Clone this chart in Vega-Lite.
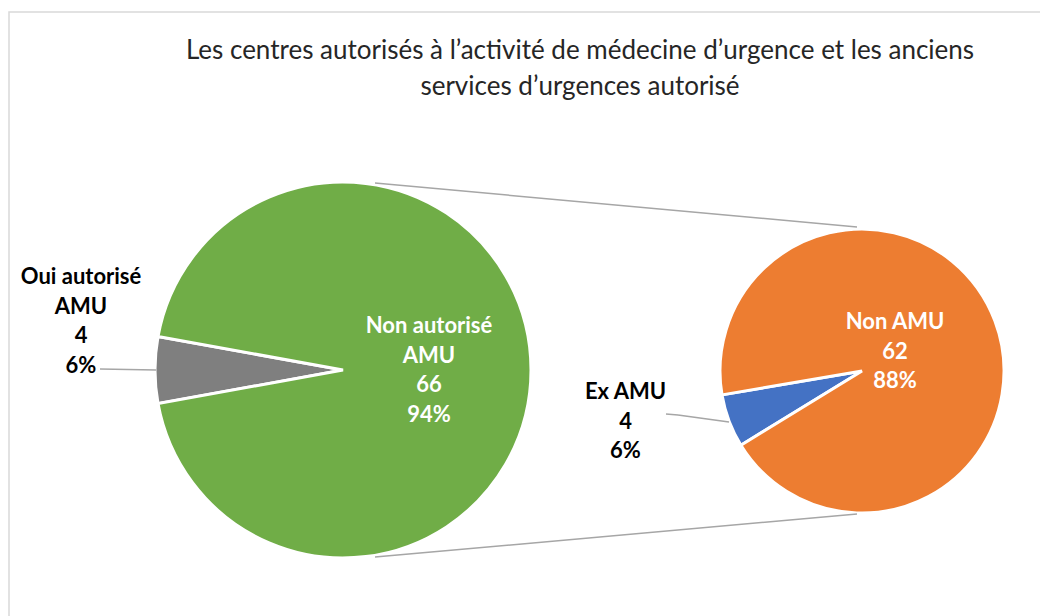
{
  "$schema": "https://vega.github.io/schema/vega-lite/v6.json",
  "width": 1040,
  "height": 616,
  "padding": 0,
  "autosize": {"type": "none"},
  "background": "white",
  "config": {"view": {"stroke": null}, "font": "Lato"},
  "title": {
    "text": ["Les centres autorisés à l’activité de médecine d’urgence et les anciens", "services d’urgences autorisé"],
    "font": "Lato",
    "fontSize": 26,
    "fontWeight": "normal",
    "color": "#262626",
    "anchor": "middle",
    "baseline": "top",
    "lineHeight": 36,
    "offset": 0,
    "dx": 60,
    "dy": 100
  },
  "datasets": {
    "principal": [
      {"categorie": "Oui autorisé AMU", "nombre": 4, "part": "6%", "ordre": 1, "etiquette": "Oui autorisé\nAMU\n4\n6%"},
      {"categorie": "Non autorisé AMU", "nombre": 66, "part": "94%", "ordre": 2, "etiquette": "Non autorisé\nAMU\n66\n94%"}
    ],
    "detail": [
      {"categorie": "Ex AMU", "nombre": 4, "part": "6%", "ordre": 1, "etiquette": "Ex AMU\n4\n6%"},
      {"categorie": "Non AMU", "nombre": 62, "part": "88%", "ordre": 2, "etiquette": "Non AMU\n62\n88%"}
    ],
    "cadre": [{}]
  },
  "layer": [
    {
      "data": {"name": "cadre"},
      "mark": {"type": "rect", "fill": null, "stroke": "#D9D9D9", "strokeWidth": 1.5},
      "encoding": {
        "x": {"datum": 9, "type": "quantitative", "scale": {"domain": [0, 1040], "zero": false, "nice": false}, "axis": null},
        "y": {"datum": 12, "type": "quantitative", "scale": {"domain": [0, 616], "zero": false, "nice": false, "reverse": true}, "axis": null},
        "x2": {"datum": 1060},
        "y2": {"datum": 640}
      }
    },
    {
      "data": {"name": "principal"},
      "mark": {"type": "arc", "outerRadius": 188, "stroke": "white", "strokeWidth": 3},
      "encoding": {
        "x": {"datum": 343, "type": "quantitative"},
        "y": {"datum": 370, "type": "quantitative"},
        "theta": {"field": "nombre", "type": "quantitative", "stack": true, "scale": {"range": [4.5327, 10.8159]}},
        "order": {"field": "ordre", "type": "quantitative"},
        "color": {"field": "categorie", "type": "nominal", "legend": null,
          "scale": {"domain": ["Oui autorisé AMU", "Non autorisé AMU", "Ex AMU", "Non AMU"], "range": ["#7F7F7F", "#70AD47", "#4472C4", "#ED7D31"]}}
      }
    },
    {
      "data": {"name": "detail"},
      "mark": {"type": "arc", "outerRadius": 142, "stroke": "white", "strokeWidth": 3},
      "encoding": {
        "x": {"datum": 862, "type": "quantitative"},
        "y": {"datum": 371, "type": "quantitative"},
        "theta": {"field": "nombre", "type": "quantitative", "stack": true, "scale": {"range": [4.1626, 10.4458]}},
        "order": {"field": "ordre", "type": "quantitative"},
        "color": {"field": "categorie", "type": "nominal", "legend": null}
      }
    },
    {
      "data": {"name": "cadre"},
      "mark": {"type": "rule", "stroke": "#A6A6A6", "strokeWidth": 1.5},
      "encoding": {"x": {"datum": 375, "type": "quantitative"}, "y": {"datum": 183, "type": "quantitative"}, "x2": {"datum": 857}, "y2": {"datum": 227}}
    },
    {
      "data": {"name": "cadre"},
      "mark": {"type": "rule", "stroke": "#A6A6A6", "strokeWidth": 1.5},
      "encoding": {"x": {"datum": 375, "type": "quantitative"}, "y": {"datum": 557, "type": "quantitative"}, "x2": {"datum": 857}, "y2": {"datum": 514}}
    },
    {
      "data": {"name": "cadre"},
      "mark": {"type": "rule", "stroke": "#A6A6A6", "strokeWidth": 1.5},
      "encoding": {"x": {"datum": 100, "type": "quantitative"}, "y": {"datum": 369, "type": "quantitative"}, "x2": {"datum": 156}, "y2": {"datum": 370}}
    },
    {
      "data": {"name": "cadre"},
      "mark": {"type": "rule", "stroke": "#A6A6A6", "strokeWidth": 1.5},
      "encoding": {"x": {"datum": 666, "type": "quantitative"}, "y": {"datum": 414, "type": "quantitative"}, "x2": {"datum": 678}, "y2": {"datum": 415}}
    },
    {
      "data": {"name": "cadre"},
      "mark": {"type": "rule", "stroke": "#A6A6A6", "strokeWidth": 1.5},
      "encoding": {"x": {"datum": 678, "type": "quantitative"}, "y": {"datum": 415, "type": "quantitative"}, "x2": {"datum": 729}, "y2": {"datum": 422}}
    },
    {
      "data": {"name": "principal"},
      "transform": [{"filter": "datum.ordre == 1"}],
      "mark": {"type": "text", "fontSize": 22, "fontWeight": "bold", "color": "#000000", "align": "center", "baseline": "middle", "lineBreak": "\n", "lineHeight": 29.5},
      "encoding": {"x": {"datum": 81, "type": "quantitative"}, "y": {"datum": 277, "type": "quantitative"}, "text": {"field": "etiquette"}}
    },
    {
      "data": {"name": "principal"},
      "transform": [{"filter": "datum.ordre == 2"}],
      "mark": {"type": "text", "fontSize": 22, "fontWeight": "bold", "color": "#FFFFFF", "align": "center", "baseline": "middle", "lineBreak": "\n", "lineHeight": 29.5},
      "encoding": {"x": {"datum": 429, "type": "quantitative"}, "y": {"datum": 326, "type": "quantitative"}, "text": {"field": "etiquette"}}
    },
    {
      "data": {"name": "detail"},
      "transform": [{"filter": "datum.ordre == 1"}],
      "mark": {"type": "text", "fontSize": 22, "fontWeight": "bold", "color": "#000000", "align": "center", "baseline": "middle", "lineBreak": "\n", "lineHeight": 29.5},
      "encoding": {"x": {"datum": 625.5, "type": "quantitative"}, "y": {"datum": 392, "type": "quantitative"}, "text": {"field": "etiquette"}}
    },
    {
      "data": {"name": "detail"},
      "transform": [{"filter": "datum.ordre == 2"}],
      "mark": {"type": "text", "fontSize": 22, "fontWeight": "bold", "color": "#FFFFFF", "align": "center", "baseline": "middle", "lineBreak": "\n", "lineHeight": 29.5},
      "encoding": {"x": {"datum": 895, "type": "quantitative"}, "y": {"datum": 322, "type": "quantitative"}, "text": {"field": "etiquette"}}
    }
  ],
  "resolve": {"scale": {"theta": "independent"}}
}
